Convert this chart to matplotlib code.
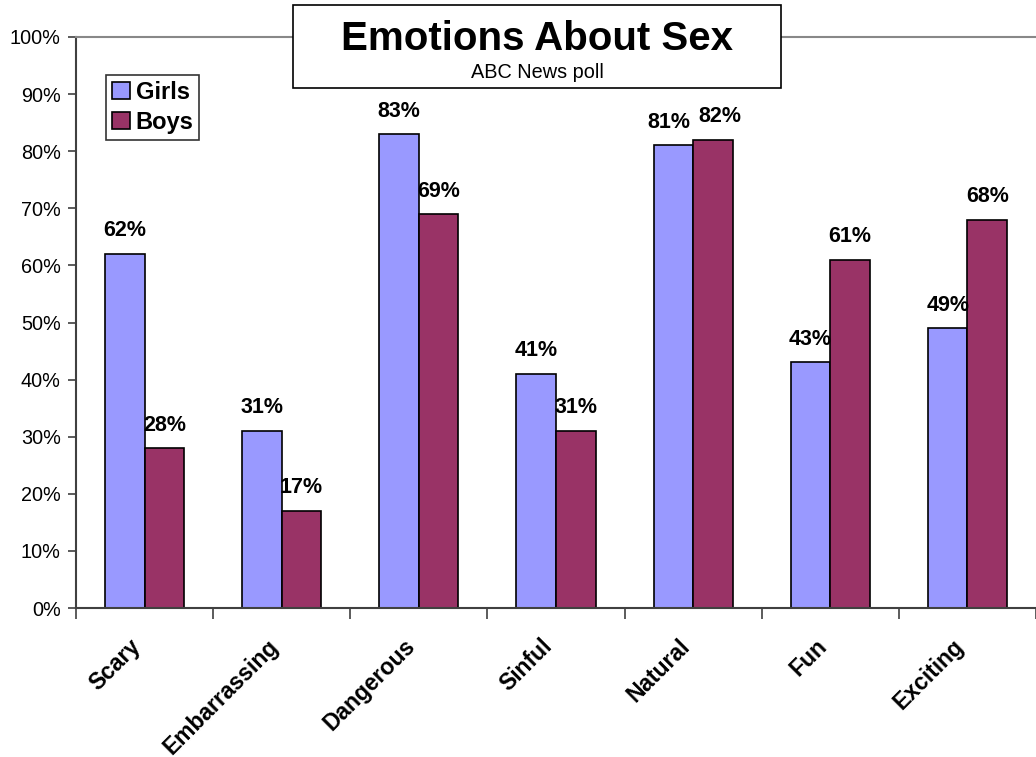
import matplotlib
matplotlib.use('Agg')
import matplotlib.pyplot as plt
from matplotlib.patches import Rectangle
from matplotlib.ticker import FixedLocator, PercentFormatter
import numpy as np

plt.rcParams['font.family'] = ['Liberation Sans', 'DejaVu Sans']

categories = ['Scary', 'Embarrassing', 'Dangerous', 'Sinful', 'Natural', 'Fun', 'Exciting']
girls = [62, 31, 83, 41, 81, 43, 49]
boys = [28, 17, 69, 31, 82, 61, 68]
series_names = ['Girls', 'Boys']
title = 'Emotions About Sex'
subtitle = 'ABC News poll'

girl_color = '#9999FF'
boy_color = '#993366'

# labels that sit side by side get pushed apart a little (points)
nudge = {(0, 'Natural'): -3, (1, 'Natural'): 5}

W, H = 1036, 757
fig = plt.figure(figsize=(W / 100, H / 100), dpi=100)

# plot area in pixels: left 76, 0% at y=608, 100% at y=37
cat_px = 138.6
left_px, bottom_px, top_px = 76, 608, 37
ax = fig.add_axes([left_px / W, (H - bottom_px) / H, 1 - left_px / W, (bottom_px - top_px) / H])

x = np.arange(len(categories))
bw = 40 / cat_px
b1 = ax.bar(x - bw / 2, girls, bw, color=girl_color, edgecolor='black', linewidth=1.2, label=series_names[0], zorder=2)
b2 = ax.bar(x + bw / 2, boys, bw, color=boy_color, edgecolor='black', linewidth=1.2, label=series_names[1], zorder=2)

for s, (bars, vals) in enumerate(((b1, girls), (b2, boys))):
    for c, r, v in zip(categories, bars, vals):
        dx = nudge.get((s, c), 0)
        ax.annotate(f'{v}%', (r.get_x() + r.get_width() / 2, v), xytext=(dx, 9),
                    textcoords='offset points', ha='center', va='bottom',
                    fontsize=15.5, fontweight='bold')

ax.set_xlim(-0.5, -0.5 + (W - left_px) / cat_px)
ax.set_ylim(0, 100)

ax.yaxis.set_major_locator(FixedLocator(np.arange(0, 101, 10)))
ax.yaxis.set_major_formatter(PercentFormatter(decimals=0))
ax.tick_params(axis='y', labelsize=14.3, length=6, width=1.2, color='#404040', pad=5)

ax.set_xticks(np.arange(-0.5, len(categories), 1.0))
ax.set_xticklabels([])
ax.tick_params(axis='x', length=8, width=1.2, color='#404040')
for i, c in enumerate(categories):
    ax.annotate(c, (i, 0), xytext=(-5, -25), textcoords='offset points',
                ha='right', va='center', rotation=45, rotation_mode='anchor',
                fontsize=16.5, fontweight='bold', annotation_clip=False)

ax.spines['right'].set_visible(False)
ax.spines['top'].set_color('#888888')
ax.spines['top'].set_linewidth(1.5)
ax.spines['left'].set_color('#404040')
ax.spines['left'].set_linewidth(1.5)
ax.spines['bottom'].set_color('#404040')
ax.spines['bottom'].set_linewidth(1.5)

leg = ax.legend(loc='upper left', bbox_to_anchor=(106 / W, 1 - 75 / H), bbox_transform=fig.transFigure,
                frameon=True, fancybox=False, prop={'size': 17, 'weight': 'bold'},
                handlelength=0.75, handleheight=0.75, handletextpad=0.25, borderpad=0.25,
                labelspacing=0.3, borderaxespad=0)
leg.get_frame().set_edgecolor('black')
leg.get_frame().set_linewidth(1.2)

# title box
fig.patches.append(Rectangle((293 / W, 1 - 88 / H), (781 - 293) / W, (88 - 5) / H,
                             transform=fig.transFigure, facecolor='white', edgecolor='black',
                             linewidth=1.2, zorder=5))
fig.text(537 / W, 1 - 39 / H, title, ha='center', va='center', fontsize=29, fontweight='bold', zorder=6)
fig.text(537 / W, 1 - 72 / H, subtitle, ha='center', va='center', fontsize=14.3, zorder=6)

fig.savefig('out.png', dpi=100)
